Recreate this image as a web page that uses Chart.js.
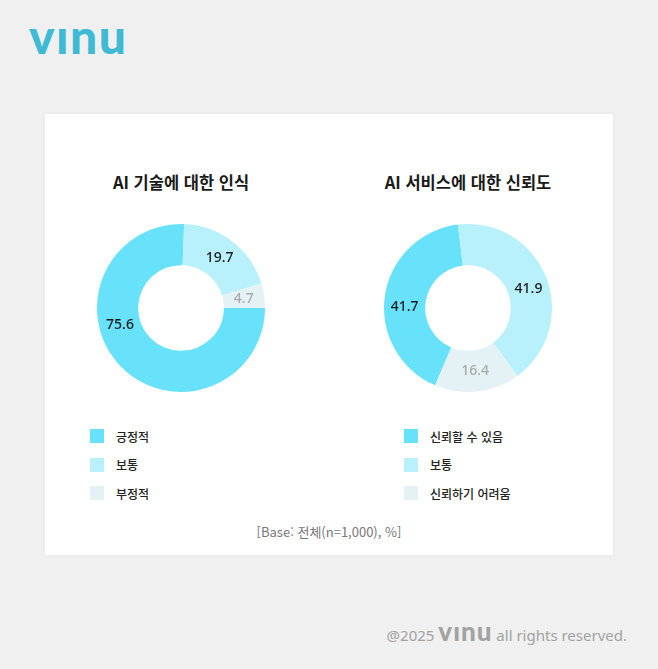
<!DOCTYPE html>
<html lang="ko">
<head>
<meta charset="utf-8">
<script src="https://cdn.jsdelivr.net/npm/chart.js@4.4.1/dist/chart.umd.min.js"></script>
<style>
  html, body { margin: 0; padding: 0; }
  body { width: 658px; height: 669px; background: #f0f0f0; position: relative; overflow: hidden;
         font-family: "Noto Sans CJK KR", "Noto Sans", sans-serif; }
  .logo { position: absolute; left: 29px; top: 12px; font-family: Lato, sans-serif; font-weight: 900;
          font-size: 48px; line-height: 48px; color: #3fbad5; letter-spacing: 1.5px; }
  .card { position: absolute; left: 45px; top: 114px; width: 568px; height: 441px; background: #ffffff;
          box-shadow: 0 0 4px rgba(0,0,0,0.05); }
  .title { position: absolute; width: 260px; text-align: center; font-weight: 700; font-size: 16.5px;
           color: #1a1a1a; line-height: 20px; }
  .chartbox { position: absolute; width: 168px; height: 168px; }
  .legend { position: absolute; font-size: 12px; font-weight: 500; color: #222; }
  .legend .item { height: 28.5px; display: flex; align-items: center; }
  .legend .box { width: 14px; height: 14px; margin-right: 12px; }
  .base { position: absolute; left: 45px; width: 568px; top: 522px; text-align: center; font-size: 13px;
          color: #777; font-family: "Noto Sans CJK KR", sans-serif; }
  .footer { position: absolute; right: 31px; top: 615px; font-family: "Noto Sans", sans-serif; font-size: 15px;
            color: #a2a2a2; white-space: nowrap; }
  .footer .flogo { font-family: Lato, sans-serif; font-weight: 900; font-size: 26px; color: #a2a2a2; letter-spacing: 1px; }
</style>
</head>
<body>
<div class="logo">vınu</div>
<div class="card"></div>

<div class="title" id="t1" style="left:51px; top:172px;"></div>
<div class="title" id="t2" style="left:338px; top:172px;"></div>

<div class="chartbox" style="left:97px; top:224px;"><canvas id="c1" width="168" height="168"></canvas></div>
<div class="chartbox" style="left:384px; top:224px;"><canvas id="c2" width="168" height="168"></canvas></div>

<div class="legend" id="l1" style="left:90px; top:422px;"></div>
<div class="legend" id="l2" style="left:404px; top:422px;"></div>

<div class="base">[Base: 전체(n=1,000), %]</div>
<div class="footer">@2025 <span class="flogo">vınu</span> all rights reserved.</div>

<script>
// ---- data ----
const title1 = "AI 기술에 대한 인식";
const labels1 = ["긍정적", "보통", "부정적"];
const values1 = [75.6, 19.7, 4.7];

const title2 = "AI 서비스에 대한 신뢰도";
const labels2 = ["신뢰할 수 있음", "보통", "신뢰하기 어려움"];
const values2 = [41.7, 41.9, 16.4];

// ---- styles ----
const sliceColors = ["#67e2fa", "#b8f0fc", "#e4f2f6"];
const labelColors = ["#1a1a1a", "#1a1a1a", "#a9a9a9"];
// label placement nudges along the ring (degrees), style only
const labelTurn1 = [28, 0, 0];
const labelTurn2 = [-7, 4, 0];

function valueLabelPlugin(turns) {
  return {
    id: "valueLabels",
    afterDatasetsDraw(chart) {
      const ctx = chart.ctx;
      const meta = chart.getDatasetMeta(0);
      const ds = chart.data.datasets[0];
      ctx.save();
      ctx.font = "500 14px 'Noto Sans', sans-serif";
      ctx.textAlign = "center";
      ctx.textBaseline = "middle";
      meta.data.forEach((arc, i) => {
        const pr = arc.getProps(["x", "y", "startAngle", "endAngle", "innerRadius", "outerRadius"], true);
        const a = (pr.startAngle + pr.endAngle) / 2 + turns[i] * Math.PI / 180;
        const r = (pr.innerRadius + pr.outerRadius) / 2;
        ctx.fillStyle = labelColors[i];
        ctx.fillText(ds.data[i].toFixed(1), pr.x + Math.cos(a) * r, pr.y + Math.sin(a) * r);
      });
      ctx.restore();
    }
  };
}

function makeDonut(id, labels, values, rotation, turns) {
  new Chart(document.getElementById(id), {
    type: "doughnut",
    data: {
      labels: labels,
      datasets: [{ data: values, backgroundColor: sliceColors, borderWidth: 0, hoverOffset: 0 }]
    },
    options: {
      responsive: false,
      animation: false,
      cutout: "51%",
      rotation: rotation,
      layout: { padding: 0 },
      plugins: { legend: { display: false }, tooltip: { enabled: false } },
      events: []
    },
    plugins: [valueLabelPlugin(turns)]
  });
}

function makeLegend(id, labels) {
  const el = document.getElementById(id);
  labels.forEach((lab, i) => {
    const item = document.createElement("div");
    item.className = "item";
    const box = document.createElement("div");
    box.className = "box";
    box.style.background = sliceColors[i];
    const txt = document.createElement("span");
    txt.textContent = lab;
    item.appendChild(box);
    item.appendChild(txt);
    el.appendChild(item);
  });
}

document.getElementById("t1").textContent = title1;
document.getElementById("t2").textContent = title2;
makeDonut("c1", labels1, values1, 90, labelTurn1);
makeDonut("c2", labels2, values2, 203, labelTurn2);
makeLegend("l1", labels1);
makeLegend("l2", labels2);
</script>
</body>
</html>
